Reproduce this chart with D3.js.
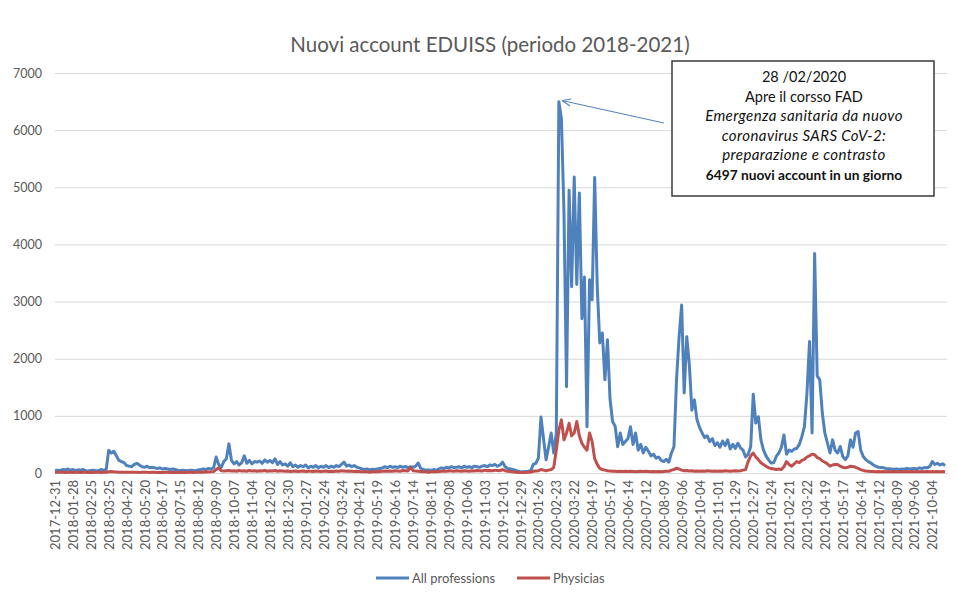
<!DOCTYPE html>
<html>
<head>
<meta charset="utf-8">
<script src="https://cdn.jsdelivr.net/npm/d3@7"></script>
<style>
  body { margin: 0; background: #fff; }
  svg text { font-family: Lato, "Open Sans", sans-serif; }
</style>
</head>
<body>
<div id="chart"></div>
<script>
// one value every 4 days, starting 2017-12-31
const stepDays = 4;
const totalDays = 1395;

const tickLabels = ['2017-12-31', '2018-01-28', '2018-02-25', '2018-03-25', '2018-04-22', '2018-05-20', '2018-06-17', '2018-07-15', '2018-08-12', '2018-09-09', '2018-10-07', '2018-11-04', '2018-12-02', '2018-12-30', '2019-01-27', '2019-02-24', '2019-03-24', '2019-04-21', '2019-05-19', '2019-06-16', '2019-07-14', '2019-08-11', '2019-09-08', '2019-10-06', '2019-11-03', '2019-12-01', '2019-12-29', '2020-01-26', '2020-02-23', '2020-03-22', '2020-04-19', '2020-05-17', '2020-06-14', '2020-07-12', '2020-08-09', '2020-09-06', '2020-10-04', '2020-11-01', '2020-11-29', '2020-12-27', '2021-01-24', '2021-02-21', '2021-03-22', '2021-04-19', '2021-05-17', '2021-06-14', '2021-07-12', '2021-08-09', '2021-09-06', '2021-10-04'];
const tickStep = 28;

const yTicks = [0, 1000, 2000, 3000, 4000, 5000, 6000, 7000];

const allProfessions = [
  40, 50, 45, 60, 55, 70, 50, 60, 45, 55,
  50, 60, 40, 35, 45, 50, 40, 45, 60, 50,
  55, 400, 350, 380, 300, 220, 200, 180, 130, 120,
  110, 150, 170, 140, 110, 100, 120, 90, 100, 90,
  80, 90, 70, 80, 70, 60, 70, 60, 50, 45,
  50, 45, 40, 50, 45, 40, 55, 60, 70, 60,
  80, 70, 90, 280, 150, 100, 200, 250, 510, 220,
  160, 200, 140, 180, 300, 170, 220, 160, 200, 190,
  210, 170, 230, 190, 220, 180, 250, 150, 200, 140,
  160, 120, 180, 110, 140, 100, 130, 110, 140, 90,
  120, 100, 130, 90, 120, 100, 130, 95, 120, 100,
  130, 110, 150, 190, 120, 140, 110, 130, 100, 90,
  70, 60, 70, 55, 65, 60, 70, 80, 90, 110,
  90, 120, 100, 110, 95, 120, 100, 115, 90, 110,
  100, 120, 175, 80, 60, 50, 55, 45, 60, 50,
  70, 90, 80, 100, 90, 110, 95, 100, 110, 90,
  120, 100, 110, 95, 120, 110, 100, 120, 130, 110,
  140, 130, 150, 120, 140, 190, 110, 80, 70, 60,
  50, 30, 20, 20, 25, 30, 40, 150, 170, 260,
  980, 600, 230, 460, 700, 350, 700, 6497, 6200, 4550,
  1510, 4950, 3260, 5180, 3300, 4900, 2700, 3430, 810, 3380,
  3030, 5170, 3260, 2275, 2450, 1630, 2330, 1300, 900, 820,
  460, 700, 500, 550, 600, 810, 500, 700, 400, 500,
  350, 450, 380, 300, 330, 260, 280, 220, 200, 240,
  190, 350, 460, 1630, 2385, 2940, 1400, 2385, 1900, 1100,
  1280, 930, 800, 700, 620, 650, 550, 600, 480, 530,
  450, 560, 480, 580, 420, 500, 430, 520, 440, 400,
  280, 330, 460, 1380, 875, 985, 580, 400, 300, 230,
  175, 180, 290, 350, 450, 665, 330, 400, 380, 420,
  430, 500, 635, 810, 1400, 2300, 700, 3840, 1700, 1630,
  1050, 700, 525, 350, 580, 400, 350, 465, 290, 235,
  300, 580, 450, 700, 725, 400, 290, 235, 200, 175,
  140, 115, 100, 95, 90, 80, 75, 70, 65, 70,
  60, 70, 65, 80, 70, 75, 80, 70, 90, 80,
  95, 90, 115, 200, 150, 170, 140, 160, 130
];

const physicians = [
  10, 15, 12, 15, 10, 15, 12, 10, 15, 12,
  10, 12, 15, 10, 12, 10, 15, 12, 10, 15,
  12, 20, 25, 20, 18, 15, 15, 12, 15, 12,
  15, 12, 15, 10, 12, 15, 12, 10, 12, 15,
  10, 12, 10, 15, 12, 10, 12, 10, 12, 10,
  12, 10, 15, 12, 10, 12, 15, 12, 15, 20,
  18, 20, 25, 60, 90, 40, 35, 40, 45, 35,
  40, 30, 45, 35, 40, 30, 45, 35, 40, 30,
  40, 35, 45, 30, 40, 35, 45, 30, 40, 35,
  30, 35, 25, 30, 35, 25, 30, 35, 25, 30,
  30, 25, 35, 30, 25, 30, 35, 25, 30, 25,
  35, 30, 40, 35, 30, 35, 30, 25, 30, 25,
  20, 25, 20, 15, 20, 25, 20, 25, 30, 35,
  30, 35, 30, 40, 35, 30, 45, 40, 35, 100,
  40, 35, 30, 25, 20, 20, 15, 20, 25, 20,
  25, 30, 35, 30, 40, 35, 30, 40, 35, 30,
  40, 35, 30, 40, 35, 45, 40, 35, 50, 40,
  45, 40, 50, 45, 40, 60, 40, 30, 25, 20,
  15, 10, 10, 10, 10, 12, 15, 30, 35, 40,
  60, 50, 40, 50, 60, 100, 400, 750, 930, 580,
  700, 870, 650, 700, 900, 650, 520, 450, 400, 700,
  550, 250, 150, 80, 60, 50, 40, 35, 30, 30,
  25, 30, 25, 30, 25, 30, 25, 20, 25, 30,
  25, 30, 25, 20, 25, 20, 25, 20, 25, 30,
  30, 50, 60, 85, 70, 50, 40, 45, 35, 40,
  30, 35, 30, 35, 30, 40, 35, 30, 35, 30,
  35, 30, 40, 35, 30, 35, 40, 35, 40, 50,
  60, 200, 300, 350, 280, 230, 180, 150, 120, 90,
  80, 70, 60, 70, 60, 110, 200, 150, 120, 160,
  200, 180, 220, 240, 280, 300, 330, 320, 270, 250,
  210, 190, 160, 120, 140, 150, 150, 120, 100, 90,
  100, 120, 115, 100, 80, 60, 45, 35, 30, 25,
  25, 20, 25, 20, 25, 20, 25, 20, 25, 20,
  20, 25, 20, 25, 20, 25, 20, 25, 20, 25,
  20, 25, 20, 25, 20, 25, 20, 25, 20
];

const noteLines = [
  { text: '28 /02/2020', style: 'normal', weight: 'normal', size: 14.5 },
  { text: 'Apre  il corsso FAD', style: 'normal', weight: 'normal', size: 14.5 },
  { text: 'Emergenza  sanitaria da nuovo', style: 'italic', weight: 'normal', size: 15 },
  { text: 'coronavirus SARS CoV-2:', style: 'italic', weight: 'normal', size: 15 },
  { text: 'preparazione e contrasto', style: 'italic', weight: 'normal', size: 15 },
  { text: '6497 nuovi account  in un giorno', style: 'normal', weight: 'bold', size: 13.7 }
];

const w = 957;
const h = 594;
const plotLeft = 55, plotRight = 947, plotTop = 73, plotBottom = 473;
const grey = '#595959';
const blue = '#4F81BD';
const red = '#C0504D';

const xScale = d3.scaleLinear()
  .domain([0, totalDays])
  .range([plotLeft, plotRight]);

const yScale = d3.scaleLinear()
  .domain([0, 7000])
  .range([plotBottom, plotTop]);

const svg = d3.select('#chart')
  .append('svg')
  .attr('width', w)
  .attr('height', h);

svg.append('rect')
  .attr('width', w)
  .attr('height', h)
  .attr('fill', '#fff');

// gridlines
const yAxis = d3.axisLeft(yScale)
  .tickValues(yTicks)
  .tickSize(-(plotRight - plotLeft))
  .tickPadding(13)
  .tickFormat(d3.format('d'));

const gy = svg.append('g')
  .attr('transform', `translate(${plotLeft},0)`)
  .call(yAxis);
gy.select('.domain').remove();
gy.selectAll('line').attr('stroke', '#d9d9d9').attr('stroke-width', 1);
gy.selectAll('text').attr('fill', grey).style('font-size', '12.5px');

// x axis with rotated date labels
const xAxis = d3.axisBottom(xScale)
  .tickValues(tickLabels.map((d, i) => i * tickStep))
  .tickSize(0)
  .tickFormat((d, i) => tickLabels[i]);

const gx = svg.append('g')
  .attr('transform', `translate(0,${plotBottom})`)
  .call(xAxis);
gx.select('.domain').attr('stroke', '#d9d9d9');
gx.selectAll('text')
  .attr('fill', grey)
  .style('font-size', '13px')
  .attr('transform', 'rotate(-90)')
  .attr('text-anchor', 'end')
  .attr('x', -7)
  .attr('y', 0)
  .attr('dy', '0.35em');

const line = d3.line()
  .x((d, i) => xScale(i * stepDays))
  .y(d => yScale(d))
  .curve(d3.curveLinear);

svg.append('path')
  .datum(allProfessions)
  .attr('fill', 'none')
  .attr('stroke', blue)
  .attr('stroke-width', 3)
  .attr('stroke-linejoin', 'round')
  .attr('d', line);

svg.append('path')
  .datum(physicians)
  .attr('fill', 'none')
  .attr('stroke', red)
  .attr('stroke-width', 3)
  .attr('stroke-linejoin', 'round')
  .attr('d', line);

// title
svg.append('text')
  .attr('x', 490)
  .attr('y', 52)
  .attr('text-anchor', 'middle')
  .attr('fill', grey)
  .style('font-size', '20.5px')
  .text('Nuovi account EDUISS (periodo 2018-2021)');

// annotation arrow to the peak
const peakIdx = d3.maxIndex(allProfessions);
svg.append('defs').append('marker')
  .attr('id', 'arrow')
  .attr('viewBox', '0 0 10 10')
  .attr('refX', 9)
  .attr('refY', 5)
  .attr('markerWidth', 9)
  .attr('markerHeight', 9)
  .attr('orient', 'auto')
  .append('path')
  .attr('d', 'M0,1 L10,5 L0,9')
  .attr('fill', 'none')
  .attr('stroke', blue)
  .attr('stroke-width', 1.2);

svg.append('line')
  .attr('x1', 664)
  .attr('y1', 123)
  .attr('x2', xScale(peakIdx * stepDays) + 4)
  .attr('y2', yScale(allProfessions[peakIdx]) - 1)
  .attr('stroke', blue)
  .attr('stroke-width', 1)
  .attr('marker-end', 'url(#arrow)');

// annotation box
const note = svg.append('g');
note.append('rect')
  .attr('x', 672)
  .attr('y', 61)
  .attr('width', 262)
  .attr('height', 135)
  .attr('fill', '#fff')
  .attr('stroke', '#3a3a3a')
  .attr('stroke-width', 1.5);

note.selectAll('text')
  .data(noteLines)
  .enter()
  .append('text')
  .attr('x', 804)
  .attr('y', (d, i) => 82 + i * 19.6)
  .attr('text-anchor', 'middle')
  .attr('fill', '#111')
  .style('font-size', d => d.size + 'px')
  .style('font-style', d => d.style)
  .style('font-weight', d => d.weight)
  .style('letter-spacing', d => d.style === 'italic' ? '0.4px' : '0px')
  .text(d => d.text);

// legend
const legendItems = [
  { name: 'All professions', color: blue, x: 376 },
  { name: 'Physicias', color: red, x: 517 }
];
const legend = svg.append('g');
legend.selectAll('line')
  .data(legendItems)
  .enter()
  .append('line')
  .attr('x1', d => d.x)
  .attr('x2', d => d.x + 33)
  .attr('y1', 578)
  .attr('y2', 578)
  .attr('stroke', d => d.color)
  .attr('stroke-width', 3);
legend.selectAll('text')
  .data(legendItems)
  .enter()
  .append('text')
  .attr('x', d => d.x + 36)
  .attr('y', 582.5)
  .attr('fill', grey)
  .style('font-size', '13px')
  .text(d => d.name);
</script>
</body>
</html>
